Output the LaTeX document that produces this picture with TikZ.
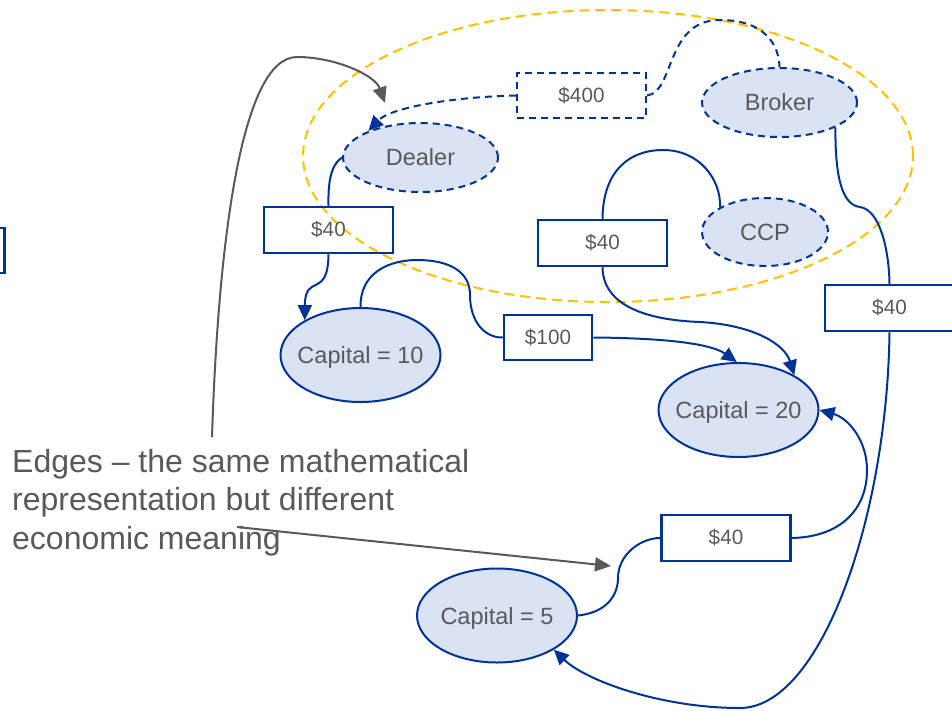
\documentclass[tikz,border=0pt]{standalone}
\usepackage{fontspec}
\setmainfont{Liberation Sans}
\usetikzlibrary{shapes.geometric,arrows.meta}
\definecolor{eblue}{RGB}{0,51,153}
\definecolor{efill}{RGB}{218,227,243}
\definecolor{egold}{RGB}{255,192,0}
\definecolor{egray}{RGB}{89,89,89}
\begin{document}
\begin{tikzpicture}[x=1pt,y=-1pt,
  ell/.style={ellipse, draw=eblue, line width=2pt, fill=efill, inner sep=0pt,
    minimum width=160pt, minimum height=94pt, text=egray,
    font=\fontsize{23.5}{28}\selectfont},
  dell/.style={ell, dash pattern=on 7pt off 5pt, minimum width=155pt, minimum height=69pt},
  box/.style={rectangle, draw=eblue, line width=2.5pt, inner sep=0pt,
    minimum width=129pt, minimum height=46pt, text=egray,
    font=\fontsize{20.7}{24}\selectfont},
  dbox/.style={box, line width=2pt, dash pattern=on 7pt off 5pt},
  conn/.style={draw=eblue, line width=2pt},
  dconn/.style={conn, dash pattern=on 7pt off 5pt},
  arr/.style={-{Triangle[length=15pt,width=14pt]}},
  garr/.style={draw=egray, line width=2pt, -{Triangle[length=16pt,width=14pt]}},
  grp/.style={ellipse, draw=egold, line width=2pt, dash pattern=on 10pt off 6pt,
    minimum width=610pt, minimum height=292pt, inner sep=0pt}
]
\useasboundingbox (0,0) rectangle (952,710);
\clip (0,0) rectangle (952,710);

% group
\node[grp] (group) at (608,156) {};

% boxes
\node[box, minimum height=45pt] (lbox) at (-60,250.5) {};
\node[box] (b40a) at (328.5,230) {\$40};
\node[box] (b40b) at (602.5,243) {\$40};
\node[box] (b40c) at (889.5,308) {\$40};
\node[box, minimum width=88pt, minimum height=45pt] (b100) at (548,337.5) {\$100};
\node[box] (b40d) at (726,538) {\$40};
\node[dbox, minimum height=45pt] (b400) at (581.5,95.5) {\$400};

% ellipses
\node[dell] (dealer) at (420.5,157.5) {\makebox[0pt]{Dealer}};
\node[dell] (broker) at (779.5,102.5) {\makebox[0pt]{Broker}};
\node[dell, minimum width=126pt, minimum height=68pt] (ccp) at (765,232) {\makebox[0pt]{CCP}};
\node[ell] (cap10) at (360.5,355) {\raisebox{-8.5pt}[0pt][0pt]{\makebox[0pt]{Capital = 10}}};
\node[ell] (cap20) at (738.5,410) {\raisebox{-8.5pt}[0pt][0pt]{\makebox[0pt]{Capital = 20}}};
\node[ell] (cap5) at (497,615.5) {\raisebox{-8.5pt}[0pt][0pt]{\makebox[0pt]{Capital = 5}}};

% connectors
\draw[conn] (dealer.west) .. controls (330,165) and (328,185) .. (b40a.north);
\draw[conn, arr] (b40a.south) .. controls (328,300) and (305,272) .. (cap10.148);
\draw[conn] (cap10.north) .. controls (360,272) and (390,260) .. (417,260)
   .. controls (450,260) and (470,272) .. (470,295)
   .. controls (470,322) and (485,338) .. (b100.west);
\draw[conn, arr] (b100.east) .. controls (660,338) and (710,343) .. (cap20.92);
\draw[conn] (b40b.north) .. controls (603,170) and (630,150) .. (663,150)
   .. controls (700,150) and (721,180) .. (ccp.151);
\draw[conn, arr] (b40b.south) .. controls (603,305) and (645,320) .. (700,322)
   .. controls (755,325) and (785,345) .. (cap20.32);
\draw[conn] (broker.-24) .. controls (835,180) and (843,205) .. (860,207)
   .. controls (880,210) and (889,250) .. (b40c.north);
\draw[conn, arr] (b40c.south) .. controls (887,520) and (820,708) .. (740,708)
   .. controls (660,708) and (585,680) .. (cap5.-31);
\draw[conn] (cap5.east) .. controls (610,612) and (618,592) .. (618,578)
   .. controls (618,555) and (640,538) .. (b40d.west);
\draw[conn, arr] (b40d.east) .. controls (840,537) and (867,510) .. (867,470)
   .. controls (867,440) and (848,418) .. (cap20.east);
\draw[dconn, arr] (b400.west) .. controls (450,97) and (390,108) .. (dealer.153);
\draw[dconn] (b400.east) .. controls (675,92) and (665,20) .. (720,20)
   .. controls (765,20) and (779,45) .. (broker.north);

% callout text and arrows
\node[anchor=north west, inner sep=0pt, align=left, text=egray,
  font=\fontsize{32}{38.5}\selectfont] (note) at (12,449)
  {Edges -- the same mathematical\\representation but different\\economic meaning};
\coordinate (c1s) at (212,437);
\coordinate (c1e) at (385,103);
\coordinate (c2s) at (237,527);
\coordinate (c2e) at (611,566);
\draw[garr] (c1s) .. controls (218,250) and (240,57) .. (297,57)
   .. controls (335,57) and (375,75) .. (c1e);
\draw[garr] (c2s) -- (c2e);
\end{tikzpicture}
\end{document}
